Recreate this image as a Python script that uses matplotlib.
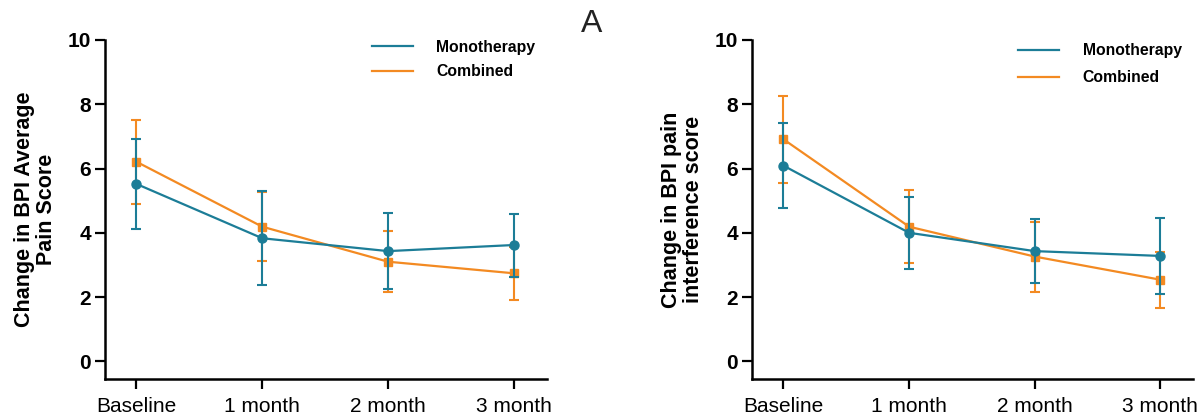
import numpy as np
import matplotlib
matplotlib.use("Agg")
import matplotlib.pyplot as plt
from matplotlib.lines import Line2D

plt.rcParams['font.family'] = ['Liberation Sans', 'DejaVu Sans']

timepoints = ["Baseline", "1 month", "2 month", "3 month"]
groups = ["Monotherapy", "Combined"]

# panel 1: BPI average pain score (mean, SD)
avg_mono = [5.52, 3.83, 3.43, 3.62]
avg_mono_sd = [1.41, 1.47, 1.18, 0.98]
avg_comb = [6.21, 4.19, 3.10, 2.74]
avg_comb_sd = [1.31, 1.07, 0.95, 0.82]

# panel 2: BPI pain interference score
int_mono = [6.09, 4.00, 3.43, 3.28]
int_mono_sd = [1.32, 1.12, 0.99, 1.19]
int_comb = [6.91, 4.19, 3.26, 2.54]
int_comb_sd = [1.35, 1.13, 1.09, 0.87]

TEAL = "#1c7d97"
ORANGE = "#f38a22"

def panel(ax, mono, mono_sd, comb, comb_sd, ylabel, leg_top, leg_gap):
    x = np.arange(len(timepoints))
    ax.errorbar(x, comb, yerr=comb_sd, color=ORANGE, marker="s", ms=5.5,
                lw=1.6, elinewidth=1.5, capsize=3.5, capthick=1.5, zorder=2)
    ax.errorbar(x, mono, yerr=mono_sd, color=TEAL, marker="o", ms=6.5,
                lw=1.6, elinewidth=1.5, capsize=3.5, capthick=1.5, zorder=3)
    ax.set_xlim(-0.25, 3.26)
    ax.set_ylim(-0.55, 10)
    ax.set_xticks(x)
    ax.set_xticklabels(timepoints, fontsize=15)
    ax.set_yticks([0, 2, 4, 6, 8, 10])
    for t in ax.get_yticklabels():
        t.set_fontweight("bold")
        t.set_fontsize(15)
    ax.tick_params(axis="both", direction="out", length=7, width=1.6)
    ax.tick_params(axis="x", pad=6)
    ax.tick_params(axis="y", pad=3)
    for s in ("top", "right"):
        ax.spines[s].set_visible(False)
    for s in ("left", "bottom"):
        ax.spines[s].set_linewidth(1.8)
    ax.set_ylabel(ylabel, fontsize=15.5, fontweight="bold", linespacing=1.1)
    ax.yaxis.set_label_coords(-0.108, 0.5)
    handles = [Line2D([0], [0], color=TEAL, lw=1.6),
               Line2D([0], [0], color=ORANGE, lw=1.6)]
    ax.legend(handles, groups, loc="upper left", bbox_to_anchor=(0.604, leg_top),
              frameon=False, borderpad=0, borderaxespad=0,
              handlelength=2.6, handletextpad=1.5, labelspacing=leg_gap,
              prop={"weight": "bold", "size": 11.3})

fig = plt.figure(figsize=(12, 4.17), dpi=100)
ax1 = fig.add_axes([0.0875, 0.0911, 0.368, 0.813])
ax2 = fig.add_axes([0.6267, 0.0911, 0.3675, 0.813])

panel(ax1, avg_mono, avg_mono_sd, avg_comb, avg_comb_sd,
      "Change in BPI Average\nPain Score", 1.001, 0.6)
panel(ax2, int_mono, int_mono_sd, int_comb, int_comb_sd,
      "Change in BPI pain\ninterference score", 0.99, 0.75)

fig.text(0.493, 0.942, "A", fontsize=23, ha="center", va="center",
         color="#222222")

fig.savefig("out.png", dpi=100)
